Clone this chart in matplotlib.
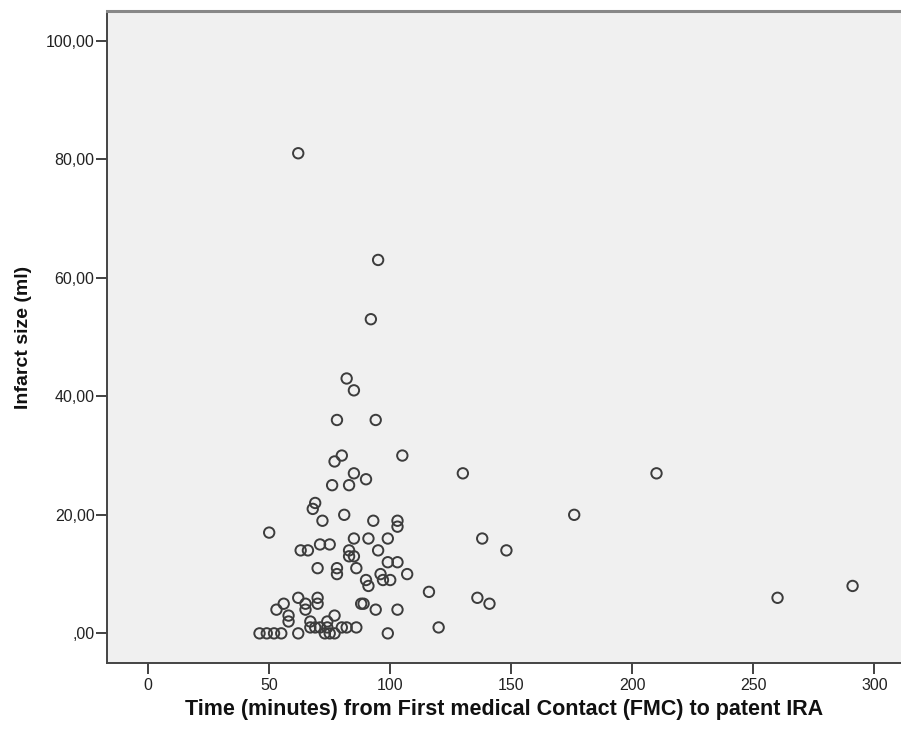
import matplotlib
matplotlib.use("Agg")
import matplotlib.pyplot as plt
from matplotlib.ticker import FuncFormatter

# time from FMC to patent IRA (minutes)
fmc_minutes = [
    62, 95, 92, 82, 85, 78, 94, 80, 77, 105, 85, 90, 76, 83,
    69, 68, 72, 81, 93, 103, 103, 50, 85, 91, 99,
    63, 66, 71, 75, 83, 83, 85, 95,
    70, 78, 78, 86, 99, 103, 107, 96, 97, 100, 90, 91,
    116, 88, 89, 94, 103,
    62, 56, 53, 65, 65, 70, 70, 58, 58, 77,
    67, 67, 74, 74, 69, 71, 80, 82, 86, 120, 99,
    46, 49, 52, 55, 62, 73, 75, 77,
    130, 210, 176, 138, 148, 136, 141, 260, 291,
]

# infarct size (ml)
infarct_ml = [
    81, 63, 53, 43, 41, 36, 36, 30, 29, 30, 27, 26, 25, 25,
    22, 21, 19, 20, 19, 19, 18, 17, 16, 16, 16,
    14, 14, 15, 15, 14, 13, 13, 14,
    11, 11, 10, 11, 12, 12, 10, 10, 9, 9, 9, 8,
    7, 5, 5, 4, 4,
    6, 5, 4, 5, 4, 6, 5, 3, 2, 3,
    2, 1, 2, 1, 1, 1, 1, 1, 1, 1, 0,
    0, 0, 0, 0, 0, 0, 0, 0,
    27, 27, 20, 16, 14, 6, 5, 6, 8,
]

x_ticks = [0, 50, 100, 150, 200, 250, 300]
y_ticks = [0, 20, 40, 60, 80, 100]

plt.rcParams['font.family'] = ['Liberation Sans', 'DejaVu Sans']

fig = plt.figure(figsize=(9.01, 7.31), dpi=100)
# plot frame runs off the right edge of the image, like the reference
ax = fig.add_axes([107 / 901, 68 / 731, 1 - 107 / 901, (663 - 11) / 731])
ax.set_facecolor('#f0f0f0')

ax.scatter(fmc_minutes, infarct_ml, s=56, facecolors='none',
           edgecolors='#3c3c3c', linewidths=1.4, zorder=3)

ax.set_xlim(-17, 311)
ax.set_ylim(-5, 105)
ax.set_xticks(x_ticks)
ax.set_yticks(y_ticks)


def comma_fmt(v, pos):
    # SPSS style: ",00" for zero, decimal comma
    if v == 0:
        return ',00'
    return f'{v:.2f}'.replace('.', ',')


ax.yaxis.set_major_formatter(FuncFormatter(comma_fmt))
ax.tick_params(axis='both', direction='out', length=8, width=1.3,
               color='#333333', labelcolor='#222222', labelsize=11.5)
ax.tick_params(axis='x', pad=3)
ax.tick_params(axis='y', pad=1)

for side in ['left', 'bottom']:
    ax.spines[side].set_color('#444444')
    ax.spines[side].set_linewidth(1.4)
ax.spines['top'].set_color('#888888')
ax.spines['top'].set_linewidth(2.2)
ax.spines['right'].set_visible(False)

ax.set_xlabel('Time (minutes) from First medical Contact (FMC) to patent IRA',
              fontsize=15.5, fontweight='bold', color='#111111', labelpad=4)
ax.set_ylabel('Infarct size (ml)', fontsize=14, fontweight='bold',
              color='#111111', labelpad=10)

fig.savefig('out.png', dpi=100)
